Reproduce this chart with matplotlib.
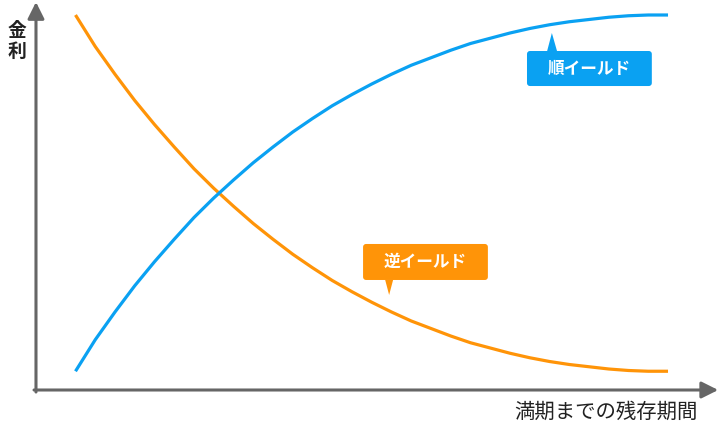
import matplotlib
matplotlib.use('Agg')
import matplotlib.pyplot as plt
from matplotlib.patches import FancyBboxPatch, Polygon

plt.rcParams['font.family'] = ['Noto Sans CJK JP', 'DejaVu Sans']

# maturity (years) and yield (%)
maturity = [1, 1.5, 2, 2.5, 3, 3.5, 4, 4.5, 5, 5.5, 6, 6.5, 7, 7.5, 8, 8.5,
            9, 9.5, 10, 10.5, 11, 11.5, 12, 12.5, 13, 13.5, 14, 14.5, 15, 15.5, 16]
normal_yield = [0.25, 0.67, 1.04, 1.39, 1.71, 2.01, 2.30, 2.56, 2.80, 3.03,
                3.24, 3.44, 3.62, 3.79, 3.94, 4.08, 4.21, 4.33, 4.43, 4.53,
                4.62, 4.69, 4.76, 4.82, 4.87, 4.91, 4.94, 4.97, 4.99, 5.00, 5.00]
inverted_yield = [5.00, 4.58, 4.21, 3.86, 3.54, 3.24, 2.95, 2.69, 2.45, 2.22,
                  2.01, 1.81, 1.63, 1.46, 1.31, 1.17, 1.04, 0.92, 0.82, 0.72,
                  0.63, 0.56, 0.49, 0.43, 0.38, 0.34, 0.31, 0.28, 0.26, 0.25, 0.25]

BLUE = '#0aa1f2'
ORANGE = '#ff9408'
AXIS = '#666666'

# data units per pixel on each axis (used to keep box corners round)
X_PER_PX = 1 / 39.5
Y_PER_PX = 1 / 75


def callout(ax, box, tip, base, text, color):
    """Rounded label box with a small pointer triangle."""
    x0, y0, x1, y1 = box
    patch = FancyBboxPatch((x0, y0), x1 - x0, y1 - y0,
                           boxstyle='round,pad=0,rounding_size=%f' % (3 * X_PER_PX),
                           mutation_aspect=Y_PER_PX / X_PER_PX,
                           fc=color, ec='none', zorder=4)
    ax.add_patch(patch)
    ax.add_patch(Polygon([(base[0], base[2]), (base[1], base[2]), tip],
                         closed=True, fc=color, ec='none', zorder=4))
    ax.text((x0 + x1) / 2, (y0 + y1) / 2, text, color='white', fontsize=12,
            fontweight='bold', ha='center', va='center', zorder=5)


def main():
    fig = plt.figure(figsize=(7.2, 4.26), dpi=100)
    ax = fig.add_axes([0, 0, 1, 1])
    ax.set_xlim(-0.911, 17.316)
    ax.set_ylim(-0.48, 5.2)
    ax.axis('off')

    # axes with arrow heads
    arrow = dict(arrowstyle='-|>,head_length=1.0,head_width=0.5', color=AXIS,
                 lw=2.2, mutation_scale=10, shrinkA=0, shrinkB=0)
    ax.annotate('', xy=(17.27, 0), xytext=(-0.05, 0), arrowprops=arrow)
    ax.annotate('', xy=(0, 5.173), xytext=(0, -0.027), arrowprops=arrow)

    ax.plot(maturity, inverted_yield, color=ORANGE, lw=2.3,
            solid_capstyle='butt', solid_joinstyle='round', zorder=3)
    ax.plot(maturity, normal_yield, color=BLUE, lw=2.3,
            solid_capstyle='butt', solid_joinstyle='round', zorder=3)

    ax.text(-0.48, 4.65, '金\n利', fontsize=13.5, fontweight='bold',
            color='#222222', ha='center', va='center', linespacing=1.15)
    ax.text(14.44, -0.293, '満期までの残存期間', fontsize=14.7,
            color='#222222', ha='center', va='center')

    callout(ax, (12.43, 4.053, 15.59, 4.52), (13.06, 4.76),
            (12.94, 13.19, 4.52), '順イールド', BLUE)
    callout(ax, (8.28, 1.467, 11.44, 1.947), (8.94, 1.267),
            (8.84, 9.04, 1.467), '逆イールド', ORANGE)

    fig.savefig('out.png', dpi=100)


if __name__ == '__main__':
    main()
